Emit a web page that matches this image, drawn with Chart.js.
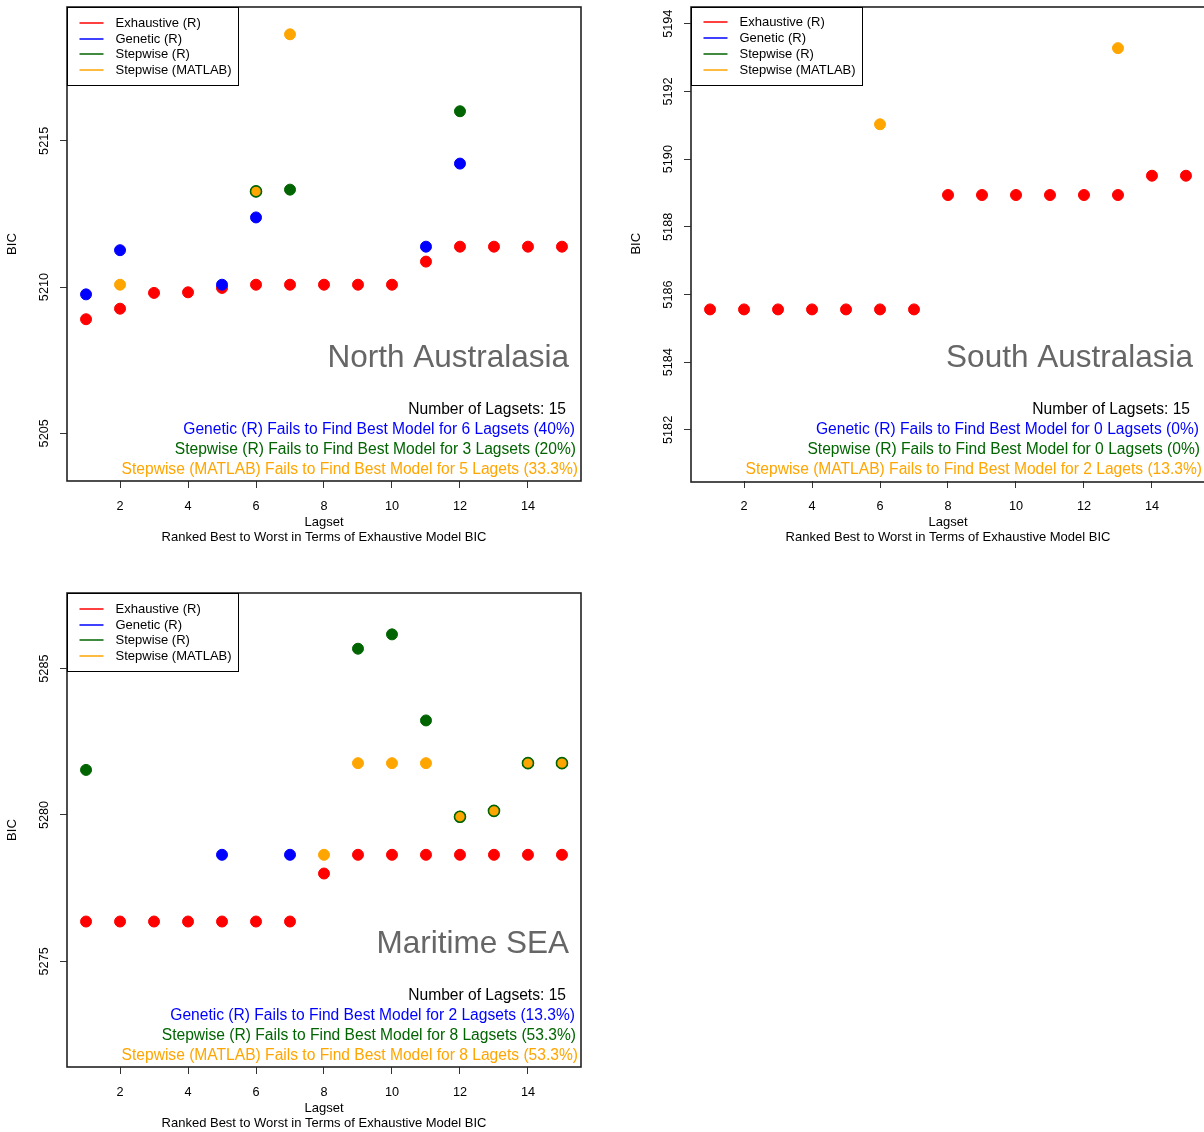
<!DOCTYPE html>
<html>
<head>
<meta charset="utf-8">
<title>BIC by Lagset</title>
<script src="https://cdn.jsdelivr.net/npm/chart.js@4.4.1/dist/chart.umd.min.js"></script>
<style>
  html, body { margin: 0; padding: 0; background: #fff; overflow: hidden; }
  body { width: 1204px; height: 1132px; position: relative; }
  canvas { position: absolute; }
  #northChart { left: 0; top: 0; }
  #southChart { left: 624px; top: 0; }
  #seaChart { left: 0; top: 586px; }
</style>
</head>
<body>
<canvas id="northChart" width="602" height="566"></canvas>
<canvas id="southChart" width="602" height="566"></canvas>
<canvas id="seaChart" width="602" height="566"></canvas>
<script>
// Lagsets, ranked best to worst by exhaustive model BIC
const lagsets = [1, 2, 3, 4, 5, 6, 7, 8, 9, 10, 11, 12, 13, 14, 15];
const xTicks = [2, 4, 6, 8, 10, 12, 14];
const xRange = [0.44, 15.56];
const xTitle = ['Lagset', 'Ranked Best to Worst in Terms of Exhaustive Model BIC'];
const methodNames = ['Exhaustive (R)', 'Genetic (R)', 'Stepwise (R)', 'Stepwise (MATLAB)'];

// North Australasia (only the lagsets where a method misses the best model are plotted)
const northExhaustive = [5208.90, 5209.26, 5209.80, 5209.82, 5209.97, 5210.08, 5210.08, 5210.08, 5210.08, 5210.08, 5210.87, 5211.38, 5211.38, 5211.38, 5211.38];
const northGenetic = [5209.75, 5211.26, null, null, 5210.08, 5212.38, null, null, null, null, 5211.38, 5214.22, null, null, null];
const northStepR = [null, null, null, null, null, 5213.27, 5213.33, null, null, null, null, 5216.01, null, null, null];
const northMatlab = [null, 5210.08, null, null, null, 5213.27, 5218.64, null, null, null, null, null, null, null, null];
const northYTicks = [5205, 5210, 5215];
const northYRange = [5203.37, 5219.57];
const northNotes = [
    'Number of Lagsets: 15',
    'Genetic (R) Fails to Find Best Model for 6 Lagsets (40%)',
    'Stepwise (R) Fails to Find Best Model for 3 Lagsets (20%)',
    'Stepwise (MATLAB) Fails to Find Best Model for 5 Lagets (33.3%)'
];

// South Australasia
const southExhaustive = [5185.56, 5185.56, 5185.56, 5185.56, 5185.56, 5185.56, 5185.56, 5188.94, 5188.94, 5188.94, 5188.94, 5188.94, 5188.94, 5189.51, 5189.51];
const southGenetic = [];
const southStepR = [];
const southMatlab = [null, null, null, null, null, 5191.03, null, null, null, null, null, null, 5193.28, null, null];
const southYTicks = [5182, 5184, 5186, 5188, 5190, 5192, 5194];
const southYRange = [5180.49, 5194.51];
const southNotes = [
    'Number of Lagsets: 15',
    'Genetic (R) Fails to Find Best Model for 0 Lagsets (0%)',
    'Stepwise (R) Fails to Find Best Model for 0 Lagsets (0%)',
    'Stepwise (MATLAB) Fails to Find Best Model for 2 Lagets (13.3%)'
];

// Maritime SEA
const seaExhaustive = [5276.36, 5276.36, 5276.36, 5276.36, 5276.36, 5276.36, 5276.36, 5278.00, 5278.64, 5278.64, 5278.64, 5278.64, 5278.64, 5278.64, 5278.64];
const seaGenetic = [null, null, null, null, 5278.64, null, 5278.64, null, null, null, null, null, null, null, null];
const seaStepR = [5281.54, null, null, null, null, null, null, null, 5285.68, 5286.17, 5283.23, 5279.94, 5280.14, 5281.77, 5281.77];
const seaMatlab = [null, null, null, null, null, null, null, 5278.64, 5281.77, 5281.77, 5281.77, 5279.94, 5280.14, 5281.77, 5281.77];
const seaYTicks = [5275, 5280, 5285];
const seaYRange = [5271.39, 5287.58];
const seaNotes = [
    'Number of Lagsets: 15',
    'Genetic (R) Fails to Find Best Model for 2 Lagsets (13.3%)',
    'Stepwise (R) Fails to Find Best Model for 8 Lagsets (53.3%)',
    'Stepwise (MATLAB) Fails to Find Best Model for 8 Lagets (53.3%)'
];

const FONT = '"Liberation Sans", Arial, Helvetica, sans-serif';
const COLORS = ['#ff0000', '#0000ff', '#006400', '#ffa500'];
const NOTE_COLORS = ['#000000', '#0000ff', '#006400', '#ffa500'];

Chart.defaults.font.family = FONT;
Chart.defaults.color = '#000';

// Turn a value list into scatter points, skipping lagsets with no value
function toPoints(values) {
    return lagsets
        .map((x, i) => ({ x: x, y: values[i] }))
        .filter(p => p.y !== null && p.y !== undefined);
}

// Legend box in the top left corner of the plot
function drawLegend(chart) {
    const ctx = chart.ctx;
    const area = chart.chartArea;
    const left = Math.round(area.left) + 0.5;
    const top = Math.round(area.top) + 0.5;
    ctx.save();
    ctx.fillStyle = '#fff';
    ctx.fillRect(left, top, 171, 78);
    ctx.strokeStyle = '#000';
    ctx.lineWidth = 1;
    ctx.strokeRect(left, top, 171, 78);
    ctx.font = '13px ' + FONT;
    ctx.textAlign = 'left';
    ctx.textBaseline = 'middle';
    chart.data.datasets.forEach((ds, i) => {
        const y = Math.round(area.top + 15.7 + i * 15.8);
        ctx.strokeStyle = COLORS[i];
        ctx.lineWidth = 1.5;
        ctx.beginPath();
        ctx.moveTo(left + 12, y);
        ctx.lineTo(left + 36, y);
        ctx.stroke();
        ctx.fillStyle = '#000';
        ctx.fillText(ds.label, left + 48, y);
    });
    ctx.restore();
}

// Region name, summary lines and the frame around the plot
const panelDecor = {
    id: 'panelDecor',
    afterDatasetsDraw(chart, args, opts) {
        const ctx = chart.ctx;
        const area = chart.chartArea;
        ctx.save();
        ctx.textAlign = 'right';
        ctx.textBaseline = 'middle';
        ctx.fillStyle = '#666666';
        ctx.font = '31.5px ' + FONT;
        ctx.fillText(opts.region, area.right - 12, area.bottom - 123);

        ctx.font = '15.6px ' + FONT;
        const rightGap = [15, 6, 5, 3];
        opts.notes.forEach((line, i) => {
            ctx.fillStyle = NOTE_COLORS[i];
            ctx.fillText(line, area.right - rightGap[i], area.bottom - 71 + i * 20);
        });

        ctx.strokeStyle = '#222';
        ctx.lineWidth = 1.6;
        ctx.strokeRect(Math.round(area.left), Math.round(area.top),
            Math.round(area.width), Math.round(area.height));
        ctx.restore();
    },
    afterDraw(chart) {
        drawLegend(chart);
    }
};

function makeDatasets(series) {
    const stepR = series[2];
    const matlab = series[3];
    // MATLAB point sitting on the same value as Stepwise (R) gets a green ring
    const sameAsStepR = c => c.raw && stepR[c.raw.x - 1] === matlab[c.raw.x - 1];
    return series.map((values, i) => ({
        label: methodNames[i],
        data: toPoints(values),
        order: series.length - i,
        pointRadius: 5.5,
        pointHoverRadius: 5.5,
        pointBackgroundColor: COLORS[i],
        pointBorderColor: c => (i === 3 && sameAsStepR(c)) ? COLORS[2] : COLORS[i],
        pointBorderWidth: c => (i === 3 && sameAsStepR(c)) ? 1.6 : 1
    }));
}

function scaleOptions(yTicks, yRange) {
    const grid = { drawOnChartArea: false, drawTicks: true, tickLength: 7, color: '#333', lineWidth: 1 };
    return {
        x: {
            type: 'linear',
            min: xRange[0],
            max: xRange[1],
            afterBuildTicks: scale => { scale.ticks = xTicks.map(value => ({ value: value })); },
            afterFit: scale => {
                scale.height = 64;
                scale.paddingLeft = 0;
                scale.paddingRight = 0;
            },
            grid: grid,
            border: { display: false },
            ticks: {
                color: '#000',
                font: { size: 12.7 },
                padding: 11,
                autoSkip: false,
                minRotation: 0,
                maxRotation: 0,
                callback: v => String(v)
            },
            title: {
                display: true,
                text: xTitle,
                color: '#000',
                font: { size: 13, lineHeight: '15px' },
                padding: { top: 0, bottom: 0 }
            }
        },
        y: {
            type: 'linear',
            min: yRange[0],
            max: yRange[1],
            afterBuildTicks: scale => { scale.ticks = yTicks.map(value => ({ value: value })); },
            afterFit: scale => {
                scale.width = 67;
                scale.paddingTop = 0;
                scale.paddingBottom = 0;
            },
            grid: grid,
            border: { display: false },
            ticks: {
                color: '#000',
                font: { size: 12.7 },
                padding: 1,
                autoSkip: false,
                minRotation: 90,
                maxRotation: 90,
                crossAlign: 'center',
                callback: v => String(v)
            },
            title: {
                display: true,
                text: 'BIC',
                color: '#000',
                font: { size: 13 },
                padding: { top: 5, bottom: 0 }
            }
        }
    };
}

function buildPanel(canvasId, series, yTicks, yRange, region, notes) {
    const ctx = document.getElementById(canvasId);
    return new Chart(ctx, {
        type: 'scatter',
        data: { datasets: makeDatasets(series) },
        options: {
            responsive: false,
            animation: false,
            devicePixelRatio: 1,
            layout: { padding: { left: 0, right: 21, top: 6, bottom: 21 } },
            scales: scaleOptions(yTicks, yRange),
            plugins: {
                legend: { display: false },
                tooltip: { enabled: false },
                panelDecor: { region: region, notes: notes }
            }
        },
        plugins: [panelDecor]
    });
}

buildPanel('northChart', [northExhaustive, northGenetic, northStepR, northMatlab],
    northYTicks, northYRange, 'North Australasia', northNotes);
buildPanel('southChart', [southExhaustive, southGenetic, southStepR, southMatlab],
    southYTicks, southYRange, 'South Australasia', southNotes);
buildPanel('seaChart', [seaExhaustive, seaGenetic, seaStepR, seaMatlab],
    seaYTicks, seaYRange, 'Maritime SEA', seaNotes);
</script>
</body>
</html>
